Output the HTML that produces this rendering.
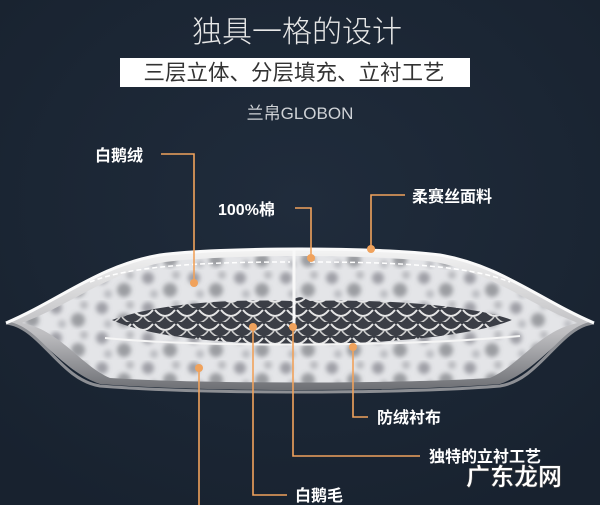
<!DOCTYPE html>
<html><head><meta charset="utf-8"><style>
html,body{margin:0;padding:0;background:#1c2736;}
svg{display:block}
text{font-family:"Liberation Sans","Noto Sans CJK SC",sans-serif;}
</style></head><body>
<svg width="600" height="505" viewBox="0 0 600 505" xmlns="http://www.w3.org/2000/svg">
<defs>
<radialGradient id="bg" cx="50%" cy="40%" r="70%"><stop offset="0" stop-color="#202c3c"/><stop offset="1" stop-color="#18222f"/></radialGradient>
<filter id="blur"><feGaussianBlur stdDeviation="2.5"/></filter>
<pattern id="fluff" width="46" height="30" patternUnits="userSpaceOnUse">
<rect width="46" height="30" fill="#e4e5e8"/>
<g filter="url(#blur)">
<circle cx="10" cy="8" r="6" fill="#70727a" opacity=".6"/>
<circle cx="32" cy="20" r="7" fill="#5f6168" opacity=".55"/>
<circle cx="38" cy="5" r="4" fill="#8a8c92" opacity=".5"/>
<circle cx="16" cy="24" r="4" fill="#8f9197" opacity=".5"/>
</g>
</pattern>
<pattern id="scales" width="22" height="14" patternUnits="userSpaceOnUse">
<rect width="22" height="14" fill="#3b3e46"/>
<path d="M1 2 Q11 14 21 2" fill="none" stroke="#e6e6e6" stroke-width="2"/>
<path d="M-10 9 Q0 21 10 9 M12 9 Q22 21 32 9" fill="none" stroke="#cfcfcf" stroke-width="1.6"/>
</pattern>
<linearGradient id="shell" x1="0" y1="0" x2="0" y2="1"><stop offset="0" stop-color="#f4f4f4"/><stop offset=".6" stop-color="#bdbdc0"/><stop offset="1" stop-color="#6d6f74"/></linearGradient>
</defs>
<rect width="600" height="505" fill="url(#bg)"/>
<text x="297" y="42" font-size="30" fill="#e8e8e8" text-anchor="middle" font-weight="300">独具一格的设计</text>
<rect x="120" y="58" width="350" height="29" fill="#fff"/>
<text x="294" y="80" font-size="21.5" fill="#333" text-anchor="middle">三层立体、分层填充、立衬工艺</text>
<text x="300" y="119" font-size="17" fill="#cfd2d6" text-anchor="middle">兰帛GLOBON</text>

<!-- pillow -->
<path d="M6 323 C60 300 100 265 160 255 C220 247 380 247 440 255 C500 265 540 300 594 323 C560 330 540 370 500 384 C400 392 200 392 100 384 C60 370 40 330 6 323 Z" fill="url(#shell)"/>
<path d="M22 323 C70 305 110 272 165 262 C230 254 370 254 435 262 C490 272 530 305 578 323 C540 330 520 365 490 378 C400 384 200 384 110 378 C80 365 60 330 22 323 Z" fill="url(#fluff)"/>
<path d="M112 320 C160 303 230 299 290 301 C300 296 300 296 310 301 C370 299 470 304 512 320 C470 337 380 344 300 344 C220 344 150 337 112 320 Z" fill="url(#scales)"/>
<path d="M105 338 C200 347 400 347 520 336" fill="none" stroke="#f5f5f5" stroke-width="2"/>
<path d="M90 282 C130 266 200 262 290 262 M310 262 C400 262 470 266 510 282" fill="none" stroke="#fff" stroke-width="1.5" stroke-dasharray="5 3"/>
<line x1="294" y1="250" x2="294" y2="330" stroke="#f8f8f8" stroke-width="3"/>
<path d="M6 323 C40 326 60 380 100 386 C200 394 400 394 500 386 C540 380 560 326 594 323" fill="none" stroke="#8d8f94" stroke-width="3"/>
<path d="M6 323 C60 300 100 265 160 255 C220 247 380 247 440 255 C500 265 540 300 594 323" fill="none" stroke="#fafafa" stroke-width="3"/>

<!-- connectors -->
<g stroke="#f0a25c" stroke-width="1.6" fill="none">
<polyline points="161,154 194,154 194,283"/>
<polyline points="295,208 311,208 311,258"/>
<polyline points="405,195 371,195 371,249"/>
<polyline points="199,368 199,505"/>
<polyline points="253,327 253,495 287,495"/>
<polyline points="293,327 293,456 420,456"/>
<polyline points="353,347 353,417 368,417"/>
</g>
<g fill="#f0a25c">
<circle cx="194" cy="283" r="4"/><circle cx="311" cy="258" r="4"/><circle cx="371" cy="249" r="4"/>
<circle cx="199" cy="368" r="4"/><circle cx="253" cy="327" r="4"/><circle cx="293" cy="327" r="4"/><circle cx="353" cy="347" r="4"/>
</g>
<g font-size="16" fill="#fff" font-weight="bold">
<text x="95" y="161">白鹅绒</text>
<text x="218" y="215">100%棉</text>
<text x="412" y="202">柔赛丝面料</text>
<text x="377" y="423">防绒衬布</text>
<text x="429" y="462">独特的立衬工艺</text>
<text x="295" y="501">白鹅毛</text>
</g>
<text x="466" y="485" font-size="24" fill="#fff" font-weight="bold" stroke="#444" stroke-width=".5">广东龙网</text>
</svg>
</body></html>
